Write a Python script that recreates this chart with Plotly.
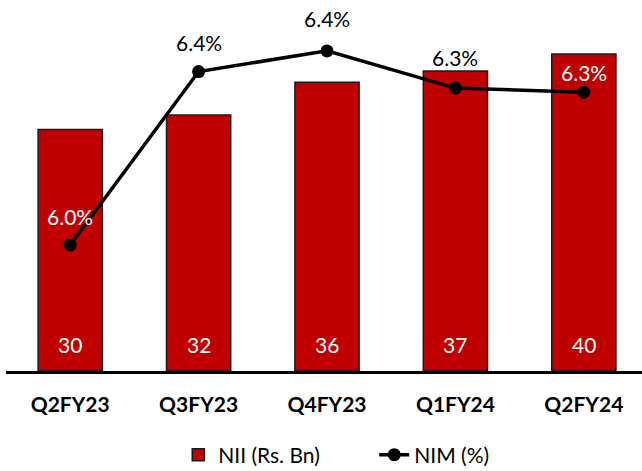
import plotly.graph_objects as go

quarters = ["Q2FY23", "Q3FY23", "Q4FY23", "Q1FY24", "Q2FY24"]
nii = [30.1, 31.9, 36.0, 37.4, 39.5]
nim = [5.96, 6.38, 6.43, 6.34, 6.33]
nim_label_colors = ["white", "black", "black", "black", "white"]
nim_label_shift = [29, 29, 32, 31, 20]

FONT = "Lato"
FS = 21

fig = go.Figure()
fig.add_trace(go.Bar(
    x=quarters, y=nii, name="NII (Rs. Bn)",
    marker=dict(color="#C00000", line=dict(color="#1a1a1a", width=1.5)),
    width=0.5,
    yaxis="y",
))
fig.add_trace(go.Scatter(
    x=quarters, y=nim, name="NIM (%)", mode="lines+markers",
    line=dict(color="black", width=3.5),
    marker=dict(color="black", size=13),
    cliponaxis=False,
    yaxis="y2",
))

for q, v in zip(quarters, nii):
    fig.add_annotation(x=q, y=0, xref="x", yref="y", text=f"{v:.0f}",
                       showarrow=False, yanchor="bottom", yshift=12,
                       font=dict(color="white", size=FS, family=FONT))

for q, v, c, s in zip(quarters, nim, nim_label_colors, nim_label_shift):
    fig.add_annotation(x=q, y=v, xref="x", yref="y2", text=f"{v:.1f}%",
                       showarrow=False, yshift=s,
                       font=dict(color=c, size=FS, family=FONT))

fig.update_layout(
    width=642, height=471,
    margin=dict(l=6, r=0, t=10, b=100, pad=0),
    paper_bgcolor="white", plot_bgcolor="white",
    font=dict(family=FONT, color="black", size=FS),
    showlegend=True,
    legend=dict(orientation="h", x=0.579, xanchor="center",
                yref="container", y=0.034, yanchor="middle",
                font=dict(size=FS, family=FONT), traceorder="normal",
                entrywidth=151, entrywidthmode="pixels"),
    xaxis=dict(range=[-0.5, 4.453], showline=True, linecolor="black", linewidth=3,
               showgrid=False, zeroline=False, ticks="", ticklabelstandoff=13,
               automargin=False,
               tickfont=dict(size=FS, family=FONT, color="black", weight="bold"),
               layer="above traces"),
    yaxis=dict(range=[0, 45.0], visible=False, showgrid=False, zeroline=False,
               automargin=False),
    yaxis2=dict(range=[5.655, 6.529], overlaying="y", visible=False, showgrid=False,
                zeroline=False, automargin=False),
    bargap=0.5,
)

fig.write_html(
    "out.html",
    config={"displayModeBar": False},
    post_script="document.body.style.margin='0';document.body.style.overflow='hidden';",
)
